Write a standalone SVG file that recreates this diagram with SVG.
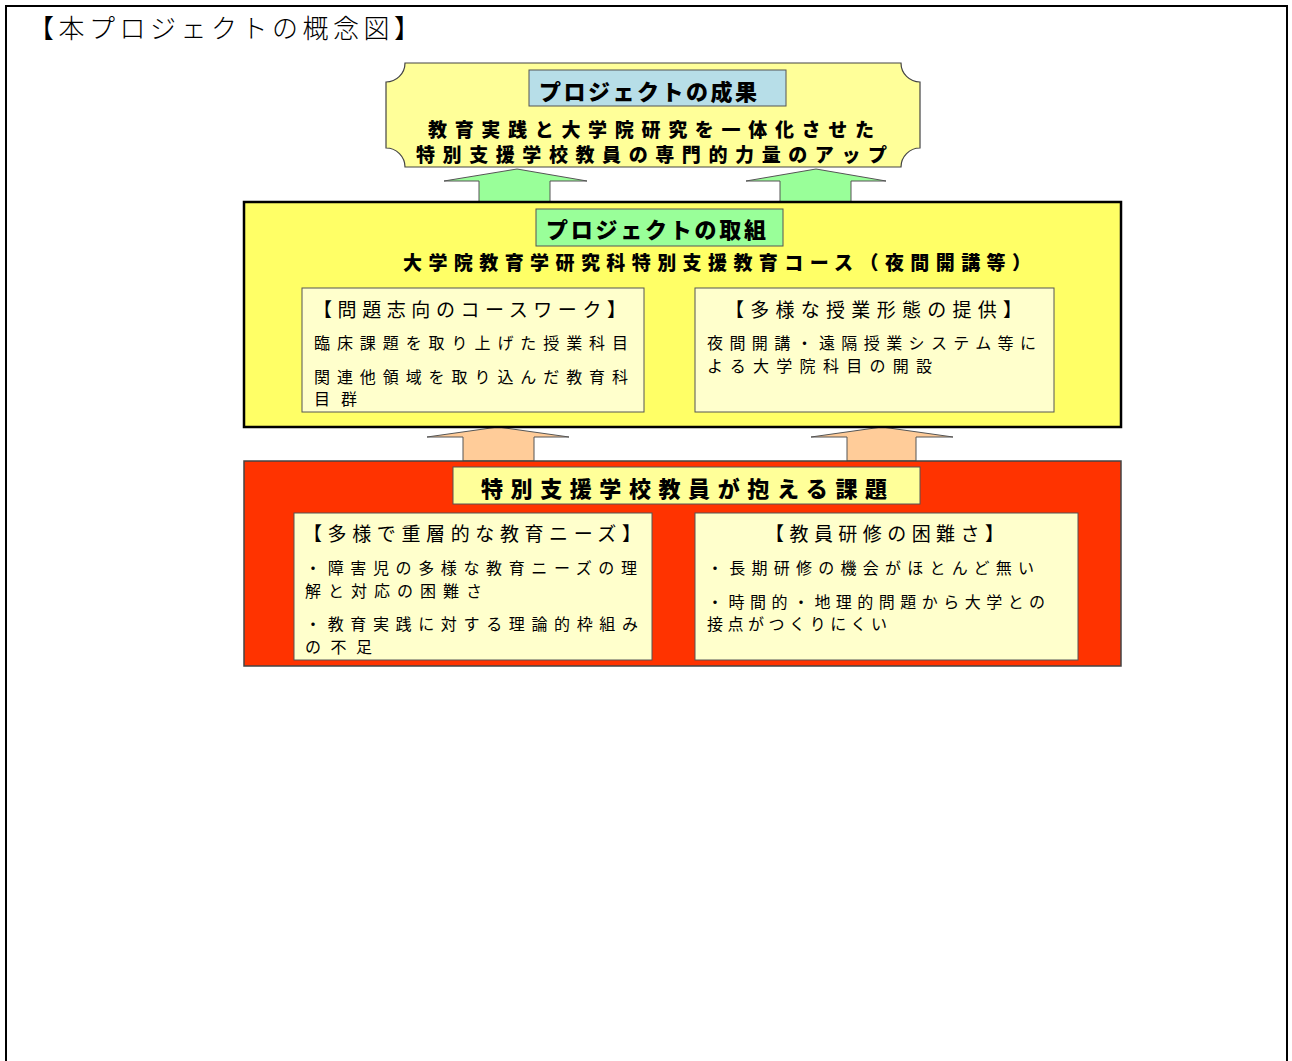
<svg xmlns="http://www.w3.org/2000/svg" width="1292" height="1061" viewBox="0 0 1292 1061">
<style>
text{font-family:"Noto Sans CJK JP","Noto Sans CJK SC",sans-serif;fill:#000;dominant-baseline:central}
.b{font-weight:900}
.t{font-size:19px}
.s{font-size:16px}
.sub{fill:#FFFFCC;stroke:#555;stroke-width:1}
.lbl{stroke:#555;stroke-width:1}
.arrG{fill:#99FF99;stroke:#555;stroke-width:1}
.arrO{fill:#FFCC99;stroke:#555;stroke-width:1}
</style>
<rect x="0" y="0" width="1292" height="1061" fill="#fff"/>
<rect x="6" y="6" width="1281" height="1070" fill="none" stroke="#000" stroke-width="2"/>
<text x="28" y="26" style="font-family:'Noto Sans CJK JP',serif;font-size:26px;font-weight:300" textLength="392" lengthAdjust="spacing">【本プロジェクトの概念図】</text>

<g id="connectors">
<path class="arrG" d="M517,169 L587,181 L550,181 L550,202 L479,202 L479,181 L444,181 Z"/>
<path class="arrG" d="M816,169 L886,181 L851,181 L851,202 L780,202 L780,181 L746,181 Z"/>
<path class="arrO" d="M498,427 L569,437 L534,437 L534,461 L463,461 L463,437 L427,437 Z"/>
<path class="arrO" d="M882,427 L953,437 L916,437 L916,461 L847,461 L847,437 L811,437 Z"/>
</g>

<g id="result">
<path d="M405,63 H901 A19,19 0 0 0 920,82 V148 A19,19 0 0 0 901,167 H405 A19,19 0 0 0 386,148 V82 A19,19 0 0 0 405,63 Z" fill="#FFFF99" stroke="#444" stroke-width="1.2"/>
<rect class="lbl" x="529" y="70" width="257" height="36" fill="#B7DEE8"/>
<text class="b" x="539" y="90" font-size="22" textLength="218" lengthAdjust="spacing">プロジェクトの成果</text>
<text class="b t" x="428" y="128" textLength="446" lengthAdjust="spacing">教育実践と大学院研究を一体化させた</text>
<text class="b t" x="416" y="153" textLength="471" lengthAdjust="spacing">特別支援学校教員の専門的力量のアップ</text>
</g>

<g id="effort">
<rect x="244" y="202" width="877" height="225" fill="#FFFF66" stroke="#000" stroke-width="2.5"/>
<rect class="lbl" x="536" y="209" width="247" height="37" fill="#99FF99"/>
<text class="b" x="546" y="228" font-size="22" textLength="220" lengthAdjust="spacing">プロジェクトの取組</text>
<text class="b t" x="403" y="261" textLength="628" lengthAdjust="spacing">大学院教育学研究科特別支援教育コース（夜間開講等）</text>
</g>

<g id="coursework">
<rect class="sub" x="302" y="288" width="342" height="124"/>
<text class="t" x="313" y="308" textLength="313" lengthAdjust="spacing">【問題志向のコースワーク】</text>
<text class="s" x="314" y="342" textLength="314" lengthAdjust="spacing">臨床課題を取り上げた授業科目</text>
<text class="s" x="314" y="376" textLength="314" lengthAdjust="spacing">関連他領域を取り込んだ教育科</text>
<text class="s" x="314" y="398" textLength="43" lengthAdjust="spacing">目群</text>
</g>

<g id="forms">
<rect class="sub" x="695" y="288" width="359" height="124"/>
<text class="t" x="725" y="308" textLength="297" lengthAdjust="spacing">【多様な授業形態の提供】</text>
<text class="s" x="707" y="342" textLength="329" lengthAdjust="spacing">夜間開講・遠隔授業システム等に</text>
<text class="s" x="707" y="365" textLength="225" lengthAdjust="spacing">よる大学院科目の開設</text>
</g>

<g id="issues">
<rect x="244" y="461" width="877" height="205" fill="#FF3300" stroke="#444" stroke-width="1.5"/>
<rect class="lbl" x="453" y="467" width="467" height="37" fill="#FFFF99"/>
<text class="b" x="481" y="487" font-size="22" textLength="406" lengthAdjust="spacing">特別支援学校教員が抱える課題</text>
</g>

<g id="needs">
<rect class="sub" x="294" y="513" width="358" height="147"/>
<text class="t" x="303" y="532" textLength="338" lengthAdjust="spacing">【多様で重層的な教育ニーズ】</text>
<text class="s" x="305" y="567" textLength="332" lengthAdjust="spacing">・障害児の多様な教育ニーズの理</text>
<text class="s" x="305" y="590" textLength="177" lengthAdjust="spacing">解と対応の困難さ</text>
<text class="s" x="305" y="623" textLength="333" lengthAdjust="spacing">・教育実践に対する理論的枠組み</text>
<text class="s" x="305" y="646" textLength="67" lengthAdjust="spacing">の不足</text>
</g>

<g id="training">
<rect class="sub" x="695" y="513" width="383" height="147"/>
<text class="t" x="765" y="532" textLength="239" lengthAdjust="spacing">【教員研修の困難さ】</text>
<text class="s" x="707" y="567" textLength="327" lengthAdjust="spacing">・長期研修の機会がほとんど無い</text>
<text class="s" x="707" y="601" textLength="338" lengthAdjust="spacing">・時間的・地理的問題から大学との</text>
<text class="s" x="707" y="623" textLength="180" lengthAdjust="spacing">接点がつくりにくい</text>
</g>
</svg>
